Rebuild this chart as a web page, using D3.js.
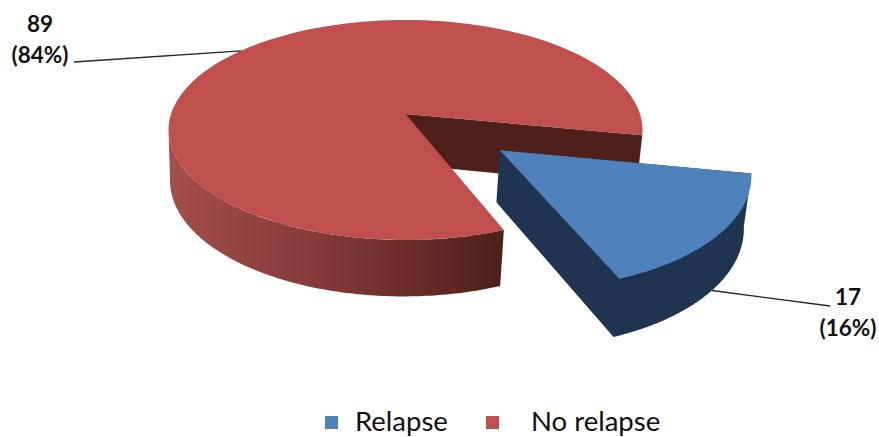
<!DOCTYPE html>
<html>
<head>
<meta charset="utf-8">
<style>
  html, body { margin: 0; padding: 0; background: #fff; }
  svg { display: block; }
  text { font-family: Lato, "Open Sans", sans-serif; fill: #111; }
</style>
<script src="https://cdn.jsdelivr.net/npm/d3@7"></script>
</head>
<body>
<svg id="chart" width="879" height="437"></svg>
<script>
// Outcome counts shown in the exploded 3D pie
const categories = ["Relapse", "No relapse"];
const counts = [17, 89];
const percentLabels = ["(16%)", "(84%)"];
const topColors = ["#4f81bd", "#c0504d"];

const svg = d3.select("#chart");

// Pie layout: angles come from the counts; the first slice starts at 101 degrees
const deg = Math.PI / 180;
const pieLayout = d3.pie().sort(null).startAngle(101 * deg).endAngle(461 * deg);
const arcs = pieLayout(counts);

// Perspective view of a unit disc lying flat; `level` 0 is the top face, 1 the base
const tilt = 0.145, sink = 0.015, thickness = 51, baseShift = 2;
const sx = d3.scaleLinear().domain([0, 1]).range([405.5, 405.5 + 234.5]);
const sy = d3.scaleLinear().domain([0, 1]).range([114, 114 + 107.7]);
function project(x, y, level) {
  const w = 1 - tilt * y + sink * level;
  return [sx(x / w) - baseShift * level, sy((y + level * thickness / 107.7) / w)];
}

// Disc position on a slice's rim
function discPoint(angle, origin) {
  return [origin[0] + Math.sin(angle), origin[1] - Math.cos(angle)];
}
function sliceOrigin(d, offset) {
  const mid = (d.startAngle + d.endAngle) / 2;
  return [offset * Math.sin(mid), -offset * Math.cos(mid)];
}
function rim(from, to, origin, level) {
  const n = 120;
  return d3.range(n + 1).map(i => {
    const p = discPoint(from + (to - from) * i / n, origin);
    return project(p[0], p[1], level);
  });
}
const rimPoint = (angle, origin, level) => rim(angle, angle, origin, level)[0];
const linePath = d3.line();
const closed = pts => linePath(pts) + "Z";

// Side shading for the long outer wall
const defs = svg.append("defs");
const wallShade = defs.append("linearGradient")
  .attr("id", "wallShade")
  .attr("gradientUnits", "userSpaceOnUse")
  .attr("x1", 170).attr("x2", 502).attr("y1", 0).attr("y2", 0);
wallShade.append("stop").attr("offset", 0).attr("stop-color", "#a34e4a");
wallShade.append("stop").attr("offset", 0.5).attr("stop-color", "#803835");
wallShade.append("stop").attr("offset", 1).attr("stop-color", "#4f1f1b");

const relapse = arcs[0], noRelapse = arcs[1];
const darkRed = "#4f1f1b", navy = "#1f3450";

// No-relapse slice, stays in place
const redOrigin = [0, 0];
const redTopApex = project(0, 0, 0), redBaseApex = project(0, 0, 1);
svg.append("path").attr("fill", darkRed)
  .attr("d", closed([
    redTopApex,
    rimPoint(noRelapse.endAngle, redOrigin, 0),
    rimPoint(noRelapse.endAngle, redOrigin, 1),
    redBaseApex
  ]));
// The outer wall stops at the left silhouette of the disc
const wallEnd = 262 * deg;
svg.append("path").attr("fill", "url(#wallShade)")
  .attr("d", closed(rim(noRelapse.startAngle, wallEnd, redOrigin, 0)
    .concat(rim(noRelapse.startAngle, wallEnd, redOrigin, 1).reverse())));
svg.append("path").attr("fill", topColors[1])
  .attr("d", closed([redTopApex].concat(rim(noRelapse.startAngle, noRelapse.endAngle, redOrigin, 0))));

// Relapse slice, pulled out along its bisector by half a radius
const blueOrigin = sliceOrigin(relapse, 0.5);
const blueTopApex = project(blueOrigin[0], blueOrigin[1], 0);
const blueBaseApex = project(blueOrigin[0], blueOrigin[1], 1);
// Cut face and outer wall share one dark outline
svg.append("path").attr("fill", navy)
  .attr("d", closed([blueTopApex]
    .concat(rim(relapse.startAngle, relapse.endAngle, blueOrigin, 0).slice(0, 1))
    .concat(rim(relapse.startAngle, relapse.endAngle, blueOrigin, 1))
    .concat([blueBaseApex])));
svg.append("path").attr("fill", topColors[0])
  .attr("d", closed([blueTopApex].concat(rim(relapse.startAngle, relapse.endAngle, blueOrigin, 0))));

// Leader lines start at each slice's bisector on its visible rim
const redMid = (noRelapse.startAngle + noRelapse.endAngle) / 2;
const blueMid = (relapse.startAngle + relapse.endAngle) / 2;
const leaders = [
  { from: rimPoint(blueMid, blueOrigin, 1), to: [830, 306] },
  { from: rimPoint(redMid, redOrigin, 0), to: [74, 62] }
];
svg.selectAll("path.leader").data(leaders).join("path")
  .attr("class", "leader")
  .attr("fill", "none").attr("stroke", "#262626").attr("stroke-width", 1.4)
  .attr("d", d => linePath([d.from, d.to]));

// Value labels
const labelSpots = [
  { x: 848, y: 305 },
  { x: 40, y: 32 }
];
const lineGap = 31;
labelSpots.forEach((spot, i) => {
  const label = svg.append("text")
    .attr("text-anchor", "middle")
    .attr("font-size", 22.5).attr("font-weight", 700);
  label.append("tspan").attr("x", spot.x).attr("y", spot.y).text(counts[i]);
  label.append("tspan").attr("x", spot.x).attr("y", spot.y + lineGap).text(percentLabels[i]);
});

// Legend
const legendSpots = [
  { box: 325, text: 355 },
  { box: 486, text: 531 }
];
categories.forEach((name, i) => {
  svg.append("rect")
    .attr("x", legendSpots[i].box).attr("y", 416)
    .attr("width", 13).attr("height", 13)
    .attr("fill", topColors[i]);
  svg.append("text")
    .attr("x", legendSpots[i].text).attr("y", 431)
    .attr("font-size", 27.5)
    .text(name);
});
</script>
</body>
</html>
